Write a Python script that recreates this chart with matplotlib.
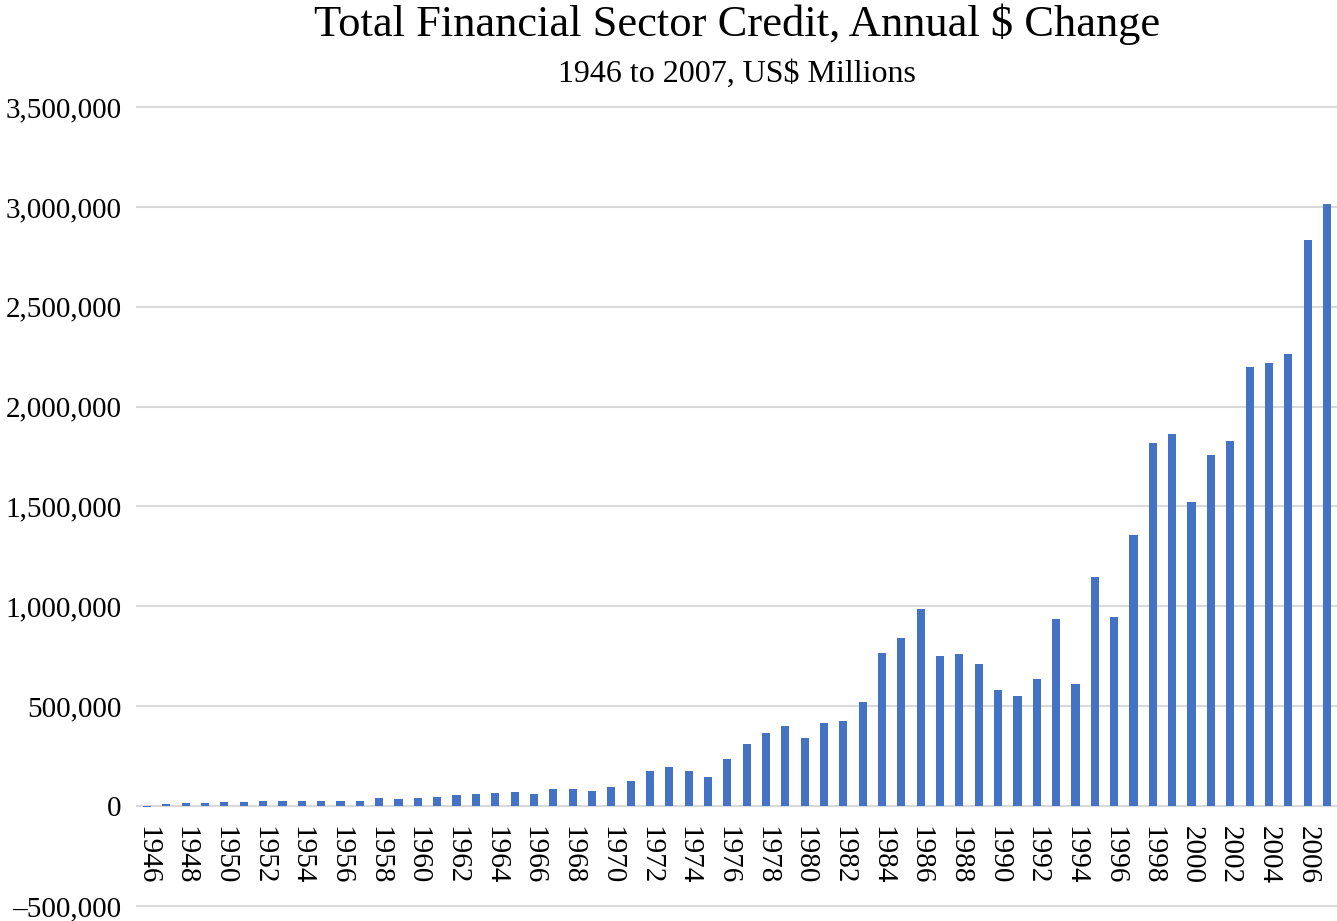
import matplotlib
matplotlib.use("Agg")
import matplotlib.pyplot as plt
from matplotlib.ticker import FuncFormatter, MultipleLocator

years = list(range(1946, 2008))
values = [
    -5000, 13000, 14000, 16000, 23000, 23000, 27000, 25000, 27000, 27000,
    25000, 26000, 42000, 36000, 42000, 48000, 55000, 63000, 65000, 73000,
    63000, 87000, 85000, 78000, 95000, 128000, 175000, 198000, 177000, 148000,
    237000, 313000, 365000, 400000, 342000, 417000, 427000, 522000, 765000, 843000,
    987000, 753000, 762000, 712000, 582000, 551000, 637000, 939000, 611000, 1146000,
    946000, 1358000, 1820000, 1862000, 1521000, 1759000, 1827000, 2200000, 2218000, 2263000,
    2832000, 3015000,
]
tick_years = list(range(1946, 2008, 2))

title = "Total Financial Sector Credit, Annual $ Change"
subtitle = "1946 to 2007, US$ Millions"

plt.rcParams['font.family'] = ['Liberation Serif', 'DejaVu Serif']

fig = plt.figure(figsize=(13.37, 9.21), dpi=100)
ax = fig.add_axes([137/1337, 1 - 906/921, 1 - 137/1337, (906 - 107)/921])

ax.bar(years, values, width=0.42, color='#4472C4', zorder=3)

ax.set_xlim(1945.48, 2007.52)
ax.set_ylim(-500000, 3500000)
ax.yaxis.set_major_locator(MultipleLocator(500000))
ax.yaxis.set_major_formatter(FuncFormatter(lambda v, p: f"{int(v):,}".replace('-', '–')))
ax.grid(axis='y', color='#D9D9D9', linewidth=1.5, zorder=0)
for gl in ax.get_ygridlines():
    gl.set_clip_on(False)

for s in ['top', 'right', 'left']:
    ax.spines[s].set_visible(False)
ax.spines['bottom'].set_position(('data', 0))
ax.spines['bottom'].set_color('#D9D9D9')
ax.spines['bottom'].set_linewidth(1.5)
ax.spines['bottom'].set_zorder(2)

ax.set_xticks(tick_years)
ax.set_xticklabels([str(y) for y in tick_years], rotation=-90, fontsize=21)
ax.tick_params(axis='x', length=0, pad=14)
ax.tick_params(axis='y', length=0, pad=11, labelsize=21)

fig.text(0.551, 1 - 24/921, title, ha='center', va='center', fontsize=32)
fig.text(0.551, 1 - 74/921, subtitle, ha='center', va='center', fontsize=23)

fig.savefig('out.png', dpi=100)
